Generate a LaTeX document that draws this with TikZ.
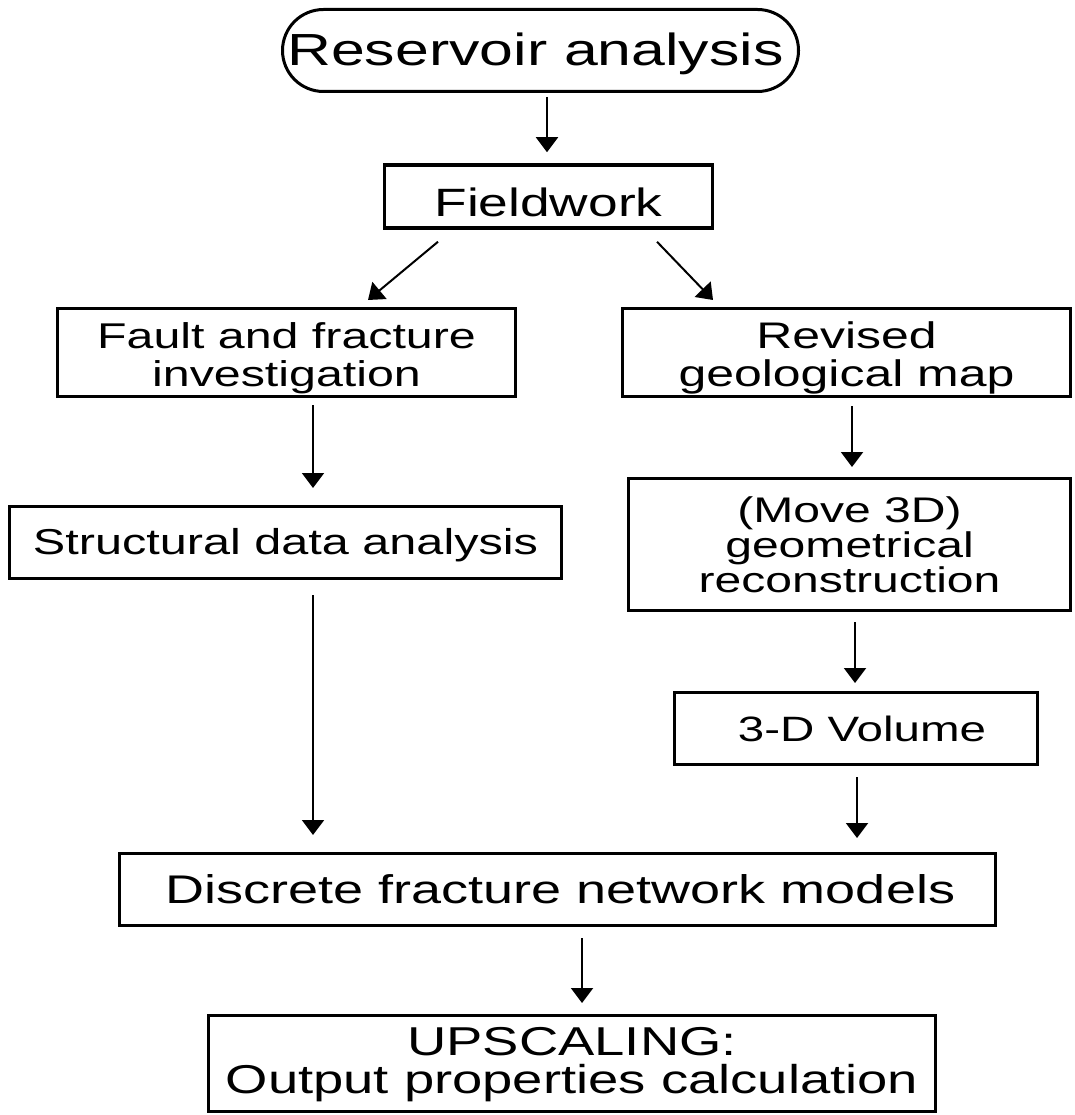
\documentclass[tikz,border=0pt]{standalone}
\usepackage{fontspec}
\setmainfont[FakeStretch=1.35]{Liberation Sans}
\usetikzlibrary{arrows.meta,calc}
\newcommand{\topstrut}[1]{\rule{0pt}{#1}}
\begin{document}
\begin{tikzpicture}[x=1pt,y=-1pt,
  box/.style={draw=black,line width=3pt,rectangle,inner sep=0pt,align=center},
  arr/.style={line width=2pt,-{Triangle[width=22pt,length=15pt]}},
  fs/.style={font=\fontsize{#1}{#1}\selectfont}]
\useasboundingbox (0,0) rectangle (1074,1115);
\fill[white] (0,0) rectangle (1074,1115);

\node[box,rounded corners=41pt,minimum width=516pt,minimum height=82pt,fs=45] (res) at (540.5,50.5) {\topstrut{38.5pt}Reservoir analysis\hspace{10pt}};
\node[box,line width=3.5pt,minimum width=328pt,minimum height=63pt,fs=39.5] (fw) at (548.5,196.5) {\topstrut{41pt}Fieldwork};
\node[box,minimum width=458pt,minimum height=88pt,font=\fontsize{35.8}{38}\selectfont] (fault) at (286.5,352.5) {\topstrut{36.5pt}Fault and fracture\\investigation};
\node[box,minimum width=448pt,minimum height=88pt,font=\fontsize{37}{38}\selectfont] (rev) at (846.5,352.5) {\topstrut{37pt}Revised\\geological map};
\node[box,minimum width=552pt,minimum height=72pt,fs=36] (struct) at (285.5,542.5) {\topstrut{30.5pt}Structural data analysis};
\node[box,minimum width=442pt,minimum height=132pt,font=\fontsize{35.6}{35}\selectfont] (move) at (849.5,544.5) {\topstrut{27pt}(Move 3D)\\geometrical\\reconstruction};
\node[box,minimum width=363pt,minimum height=72pt,fs=35.2] (vol) at (856,728.5) {\hspace{12pt}3-D Volume};
\node[box,minimum width=876pt,minimum height=72pt,fs=40] (dfn) at (557.5,889.5) {\hspace{6pt}Discrete fracture network models};
\node[box,minimum width=727pt,minimum height=96pt,font=\fontsize{40.3}{38}\selectfont] (up) at (572,1063.5) {\topstrut{29.5pt}UPSCALING:\\Output properties calculation};

\draw[arr] ($(res.south)+(6.5,4)$) -- ($(fw.north)+(-1.5,-11)$);
\draw[arr] ($(fw.south)+(-110.5,12)$) -- ($(fault.north)+(81.5,-7)$);
\draw[arr] ($(fw.south)+(108.5,12)$) -- ($(rev.north)+(-133.5,-7)$);
\draw[arr] ($(fault.south)+(26.5,7)$) -- ($(struct.north)+(27.5,-17)$);
\draw[arr] ($(rev.south)+(5.5,8)$) -- ($(move.north)+(2.5,-10)$);
\draw[arr] ($(struct.south)+(27.5,15)$) -- ($(dfn.north)+(-244.5,-17)$);
\draw[arr] ($(move.south)+(5.5,10)$) -- ($(vol.north)+(-1,-8)$);
\draw[arr] ($(vol.south)+(1,11)$) -- ($(dfn.north)+(299.5,-14)$);
\draw[arr] ($(dfn.south)+(24.5,11)$) -- ($(up.north)+(10,-11)$);
\end{tikzpicture}
\end{document}
